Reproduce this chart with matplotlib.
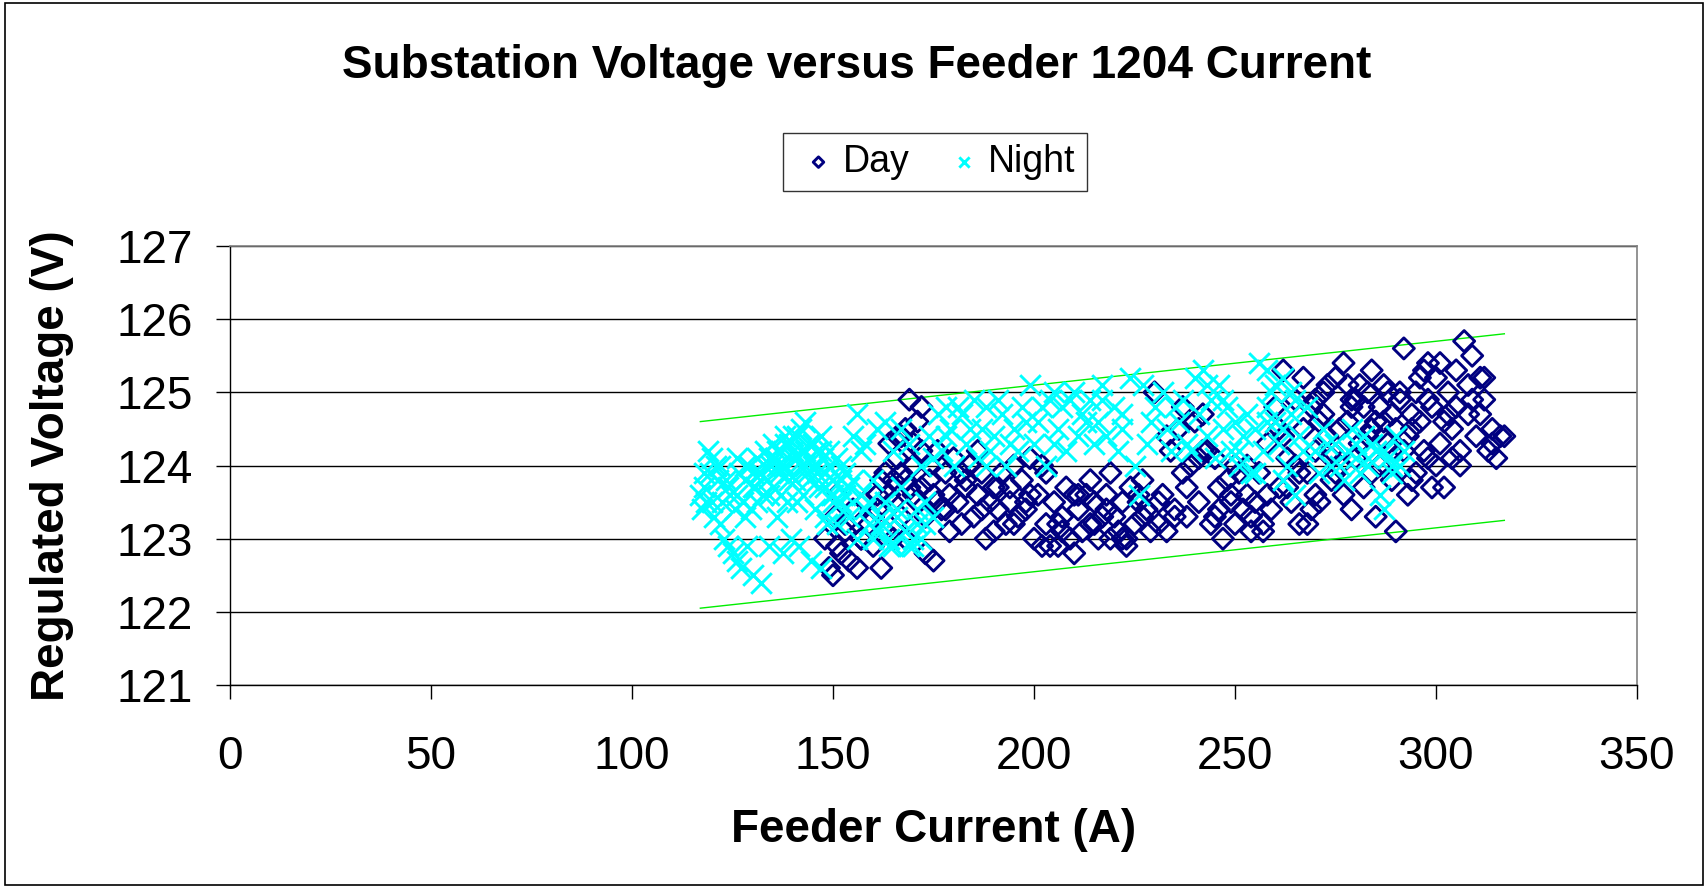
import matplotlib
matplotlib.use("Agg")
import matplotlib.pyplot as plt
from matplotlib.patches import Rectangle

plt.rcParams['font.family'] = ['Liberation Sans', 'DejaVu Sans']

title = "Substation Voltage versus Feeder 1204 Current"
x_label = "Feeder Current (A)"
y_label = "Regulated Voltage (V)"
x_ticks = [0, 50, 100, 150, 200, 250, 300, 350]
y_ticks = [121, 122, 123, 124, 125, 126, 127]

night_x = [117, 117.5, 118, 118.5, 119, 119.5, 120, 120.5, 121, 121.5, 122, 122.5, 123, 123.5, 124, 124.5,
           125, 125.5, 126, 126.5, 127, 127.5, 128, 128.5, 129, 129.5, 130, 130.5, 131, 131.5, 132, 132.5,
           133, 133.5, 134, 134.5, 135, 135.5, 136, 136.5, 137, 137.5, 138, 138.5, 139, 139.5, 140, 140.5,
           141, 141.5, 142, 142.5, 143, 143.5, 144, 144.5, 145, 145.5, 146, 146.5, 147, 147.5, 148, 148.5,
           149, 149.5, 150, 151, 152, 153, 154, 155, 156, 157, 158, 159, 160, 161, 162, 163, 164, 165, 166,
           167, 168, 169, 170, 171, 172, 173, 174, 175, 176, 177, 178, 179, 180, 182, 183, 185, 186, 187, 188,
           189, 190, 192, 193, 195, 196, 197, 199, 200, 201, 203, 204, 205, 206, 207, 208, 210, 211, 212, 214,
           215, 216, 217, 218, 220, 221, 222, 224, 225, 226, 227, 228, 230, 232, 233, 234, 236, 237, 238, 240,
           241, 242, 243, 244, 245, 246, 247, 248, 249, 250, 251, 252, 253, 254, 255, 256, 257, 258, 259, 260,
           261, 262, 263, 264, 265, 266, 268, 270, 272, 274, 275, 277, 278, 279, 280, 281, 282, 283, 284, 285,
           286, 287, 288, 289, 290, 291, 292,
           136, 138, 140, 141, 142, 143, 144, 145, 146, 147, 139, 137, 148, 150, 152, 134, 132, 130, 128, 126,
           158, 160, 162, 164, 166, 168, 170, 172, 153, 155]
night_y = [123.6, 123.4, 123.7, 123.5, 124.2, 123.9, 124.1, 123.3, 124.0, 123.8, 123.2, 123.5, 123.0, 123.8, 122.9, 123.6,
           122.8, 123.4, 122.7, 123.9, 122.6, 123.5, 123.8, 122.9, 124.0, 123.4, 122.5, 123.7, 124.1, 123.9, 122.4, 123.6,
           124.2, 123.8, 122.9, 124.0, 123.7, 124.1, 123.3, 123.9, 124.2, 122.8, 124.0, 123.5, 124.3, 123.0, 124.4, 123.8,
           124.1, 122.9, 124.5, 123.6, 124.2, 123.9, 124.3, 122.7, 124.0, 123.4, 124.2, 123.7, 122.6, 124.1, 123.9, 123.2,
           124.0, 123.6, 123.8, 124.1, 123.5, 123.9, 123.3, 124.4, 124.7, 123.6, 124.3, 123.2, 123.8, 124.5, 123.3, 124.6, 123.0, 124.2, 123.4,
           124.5, 123.1, 124.3, 123.0, 123.4, 124.0, 123.2, 124.4, 123.3, 124.7, 124.2, 124.8, 124.5, 124.0, 124.7, 124.3, 124.9, 124.1, 124.5, 124.8,
           124.2, 124.4, 124.7, 124.0, 124.5, 124.2, 124.8, 125.1, 124.3, 124.6, 124.0, 124.9, 125.0, 124.5, 124.8, 124.2, 125.0, 124.4, 124.7, 124.9,
           124.3, 124.6, 125.1, 124.4, 124.8, 124.2, 124.5, 125.2, 124.0, 123.6, 125.1, 124.3, 124.8, 125.0, 124.5, 124.2, 124.6, 124.9, 124.3, 125.2,
           124.7, 125.3, 124.4, 124.9, 124.1, 125.1, 124.5, 124.8, 124.2, 124.6, 124.0, 124.4, 124.7, 123.9, 124.5, 125.4, 124.2, 124.8, 125.0, 124.6,
           124.3, 125.2, 124.0, 124.7, 123.6, 124.4, 124.8, 124.2, 124.5, 124.0, 124.3, 123.8, 124.2, 124.5, 124.1, 123.9, 124.4, 124.0, 124.3, 124.2,
           123.6, 123.4, 124.1, 123.9, 124.4, 124.0, 124.2,
           124.2, 124.3, 124.1, 124.4, 124.2, 124.0, 124.1, 124.3, 124.0, 124.2, 123.9, 124.0, 123.7, 123.5, 123.8, 124.1, 123.9, 123.7, 124.0, 123.6,
           123.4, 123.0, 123.2, 122.9, 123.3, 123.1, 122.9, 123.0, 123.6, 123.8]
night_extra = [(118, 123.9), (120, 123.5), (122, 124.0), (124, 123.7), (126, 124.1), (128, 123.3), (130, 123.9),
               (131, 123.5), (133, 124.0), (134, 123.6), (135, 124.3), (136, 124.0), (137, 123.6), (138, 124.4),
               (139, 123.8), (140, 124.2), (141, 123.5), (142, 124.0), (143, 124.6), (144, 123.8), (145, 124.3),
               (146, 123.9), (147, 124.4), (148, 123.3), (149, 124.2), (150, 123.6), (151, 123.2), (152, 124.0),
               (153, 123.4), (154, 123.7), (156, 123.0), (157, 124.2), (159, 123.5), (161, 123.1), (163, 123.5),
               (165, 122.9), (167, 123.7), (169, 122.9), (171, 123.2), (173, 123.5), (175, 124.1), (178, 124.4),
               (181, 124.8), (184, 124.5), (188, 124.0), (191, 124.9), (194, 124.3), (198, 124.6), (202, 124.8),
               (205, 124.3), (209, 124.9), (213, 124.6), (217, 124.9), (222, 124.7), (229, 124.6), (235, 124.8),
               (239, 124.2), (243, 125.1), (247, 124.9), (251, 124.2), (255, 123.9), (258, 124.6), (260, 125.1),
               (262, 124.5), (264, 125.0), (267, 124.2), (271, 123.9), (273, 124.3), (276, 124.0), (280, 124.3),
               (283, 124.1), (287, 124.2), (289, 124.0), (262, 123.8), (265, 124.9), (258, 125.3)]

day_x = [148, 149, 150, 150.5, 151, 152, 153, 154, 155, 156, 157, 158, 159, 160, 161, 162, 163, 164, 165, 166,
         167, 168, 169, 170, 171, 172, 173, 174, 175, 176, 177, 178, 179, 180, 181, 182, 183, 184, 185, 186,
         187, 188, 189, 190, 191, 192, 193, 194, 195, 196, 197, 198, 199, 200, 201, 202, 203, 204, 205, 206,
         207, 208, 209, 210, 211, 212, 213, 214, 215, 216, 217, 218, 219, 220, 221, 222, 223, 224, 225, 226,
         227, 228, 230, 231, 232, 233, 234, 235, 236, 237, 238, 239, 240, 241, 242, 243, 244, 245, 246, 247,
         248, 249, 250, 251, 252, 253, 254, 255, 256, 257, 258, 259, 260, 261, 262, 263, 264, 265, 266, 267,
         268, 269, 270, 271, 272, 273, 274, 275, 276, 277, 278, 279, 280, 281, 282, 283, 284, 285, 286, 287,
         288, 289, 290, 291, 292, 293, 294, 295, 296, 297, 298, 299, 300, 301, 302, 303, 304, 305, 306, 307,
         308, 309, 310, 311, 312, 313, 314, 315, 316, 317,
         268, 270, 272, 275, 278, 282, 285, 288, 292, 295, 298, 300, 303, 296, 290, 284, 280, 276, 273, 286,
         293, 299, 304, 309, 312, 165, 167, 170, 172, 168]
day_y = [123.0, 122.6, 122.5, 123.3, 123.6, 122.8, 123.1, 122.7, 123.4, 122.6, 123.0, 123.5, 123.2, 122.9, 123.6, 122.6, 123.9, 124.3, 123.5, 124.1,
         123.3, 124.5, 124.9, 124.0, 123.5, 124.8, 122.8, 123.8, 122.7, 124.2, 123.4, 123.9, 123.1, 124.1, 123.5, 123.2, 123.8, 124.0, 123.3, 123.6,
         123.9, 123.0, 123.5, 123.7, 123.4, 123.9, 123.2, 123.5, 124.0, 123.3, 123.8, 123.4, 124.1, 123.0, 123.6, 122.9, 123.2, 122.9, 123.5, 122.9,
         123.3, 123.7, 123.0, 122.8, 123.4, 123.1, 123.6, 123.2, 123.5, 123.0, 123.3, 123.6, 123.0, 123.3, 123.1, 123.5, 122.9, 123.7, 123.2, 123.5,
         123.8, 123.4, 125.0, 123.2, 123.6, 123.1, 124.2, 123.4, 124.5, 124.8, 123.3, 124.0, 124.6, 123.5, 124.7, 124.2, 123.2, 124.1, 123.4, 123.0,
         123.8, 123.5, 123.2, 123.9, 123.4, 123.6, 123.1, 123.5, 123.9, 123.1, 124.3, 123.4, 124.8, 123.7, 125.3, 124.1, 123.5, 124.0, 123.2, 124.5,
         123.9, 124.8, 124.2, 123.5, 125.0, 124.4, 123.8, 125.2, 124.0, 125.4, 124.6, 123.4, 124.9, 124.3, 123.7, 125.0, 124.5, 123.3, 124.8, 125.1,
         124.3, 124.7, 123.1, 124.9, 125.6, 124.4, 123.8, 125.0, 124.6, 125.3, 124.1, 124.8, 125.2, 124.3, 123.7, 125.0, 124.5, 125.3, 124.2, 125.7,
         124.7, 125.5, 124.4, 125.2, 124.9, 124.2, 124.5, 124.1, 124.4, 124.4,
         123.2, 123.6, 124.7, 123.9, 125.1, 124.8, 124.6, 125.0, 124.2, 123.9, 124.9, 124.0, 124.7, 125.2, 124.5, 125.3, 124.1, 124.5, 125.1, 124.0,
         123.6, 123.7, 124.1, 124.9, 125.2, 123.0, 124.4, 123.6, 124.2, 123.8]
day_extra = [(160, 123.3), (162, 123.8), (164, 123.6), (166, 124.4), (168, 123.0), (170, 124.3), (172, 123.7),
             (174, 124.0), (163, 123.1), (167, 123.9), (171, 124.6), (175, 123.6), (178, 123.4), (182, 123.9),
             (186, 124.2), (190, 123.1), (194, 123.7), (198, 123.5), (202, 124.0), (206, 123.2), (210, 123.6),
             (214, 123.8), (218, 123.4), (222, 123.0), (226, 123.6), (229, 123.1), (233, 124.4), (237, 123.9),
             (241, 124.1), (245, 123.3), (249, 123.6), (253, 124.0), (257, 123.2), (261, 124.5), (265, 124.9),
             (263, 123.7), (267, 125.2), (269, 123.4), (271, 124.6), (274, 124.2), (277, 123.6), (279, 124.9),
             (281, 125.1), (283, 124.4), (287, 124.6), (289, 123.8), (291, 125.0), (294, 124.5), (297, 124.2),
             (301, 125.4), (305, 124.8), (308, 125.1), (311, 124.7), (314, 124.3), (306, 124.0), (302, 124.6),
             (298, 125.4), (294, 124.7), (289, 124.2), (284, 123.9), (279, 124.8), (274, 124.1), (270, 124.9),
             (266, 123.9), (262, 124.4), (258, 123.6), (254, 123.3), (250, 124.0), (246, 123.7), (242, 124.2),
             (238, 123.7), (235, 123.3), (231, 123.5), (227, 123.3), (223, 123.0), (219, 123.9), (215, 123.2),
             (211, 123.6), (207, 123.1), (203, 123.9), (199, 123.6), (195, 123.2), (191, 123.7), (187, 123.4),
             (183, 123.7), (179, 123.6), (176, 123.5), (173, 123.3), (169, 123.7), (165, 123.8), (161, 123.4),
             (157, 123.0), (153, 123.2), (151, 122.9)]

upper_x = [117, 317]
upper_y = [124.6, 125.8]
lower_x = [117, 317]
lower_y = [122.05, 123.25]

W, H = 1708, 888
fig = plt.figure(figsize=(W / 100, H / 100), dpi=100)
fig.patch.set_facecolor('white')
fig.add_artist(Rectangle((0.003, 0.003), 0.994, 0.994, transform=fig.transFigure,
                         fill=False, edgecolor='black', linewidth=1.2))

ax = fig.add_axes([230 / W, 1 - 685 / H, (1637 - 230) / W, (685 - 246) / H])
ax.set_xlim(0, 350)
ax.set_ylim(121, 127)
ax.set_xticks(x_ticks)
ax.set_yticks(y_ticks)
ax.yaxis.grid(True, color='black', linewidth=1.0)
ax.set_axisbelow(True)
for s in ['top', 'right']:
    ax.spines[s].set_color('#808080')
    ax.spines[s].set_linewidth(1.2)
for s in ['left', 'bottom']:
    ax.spines[s].set_color('black')
    ax.spines[s].set_linewidth(1.0)
ax.tick_params(axis='both', direction='out', length=10, width=1.0, labelsize=33)
ax.tick_params(axis='x', pad=26)
ax.tick_params(axis='y', pad=17)

ax.plot(upper_x, upper_y, color='#00ee00', linewidth=1.0, zorder=1)
ax.plot(lower_x, lower_y, color='#00ee00', linewidth=1.0, zorder=1)

dx = day_x + [p[0] for p in day_extra]
dy = day_y + [p[1] for p in day_extra]
nx = night_x + [p[0] for p in night_extra]
ny = night_y + [p[1] for p in night_extra]

ax.scatter(dx, dy, marker='D', s=115, facecolors='none', edgecolors='#000080',
           linewidths=2.1, label='Day', zorder=2)
ax.scatter(nx, ny, marker='x', s=220, color='#00ffff',
           linewidths=2.1, label='Night', zorder=3)

ax.set_xlabel(x_label, fontsize=33, fontweight='bold')
ax.set_ylabel(y_label, fontsize=33, fontweight='bold')
ax.xaxis.set_label_coords(0.5, (685 - 808) / 439)
ax.yaxis.set_label_coords((74 - 230) / 1407, 0.5)
fig.text(857 / W, 1 - 66 / H, title, fontsize=33, fontweight='bold', ha='center', va='center')

leg = ax.legend(loc='center', bbox_to_anchor=(935 / W, 1 - 162 / H), bbox_transform=fig.transFigure,
                ncol=2, fontsize=27, frameon=True, fancybox=False, edgecolor='black',
                handletextpad=0.0, columnspacing=0.8, borderpad=0.3, markerscale=0.5,
                handlelength=1.3)
leg.get_frame().set_linewidth(1.0)

fig.savefig('out.png', dpi=100, facecolor='white')
